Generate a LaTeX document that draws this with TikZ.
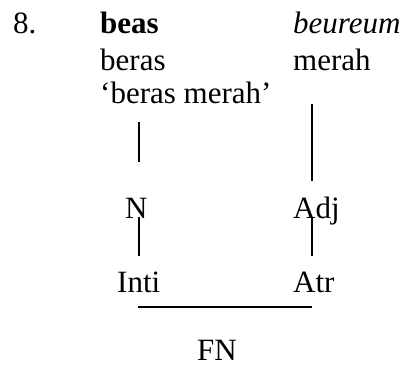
\documentclass[tikz,border=0pt]{standalone}
\usepackage{fontspec}
\setmainfont{Liberation Serif}
\begin{document}
\begin{tikzpicture}[x=1bp,y=-1bp,
  word/.style={anchor=base west,inner sep=0pt,font=\fontsize{31bp}{34bp}\selectfont},
  stem/.style={line width=1.6bp}]
\useasboundingbox (0,0) rectangle (406,367);

% example number and the glossed phrase
\node[word] (num)   at (13,33)  {8.};
\node[word] (src1)  at (100,33) {\textbf{beas}};
\node[word] (src2)  at (293,33) {\textit{beureum}};
\node[word] (gl1)   at (100,70) {beras};
\node[word] (gl2)   at (293,70) {merah};
\node[word] (trans) at (100,103) {`beras merah'};

% category and function labels
\node[word] (cat1)  at (125,218) {N};
\node[word] (cat2)  at (293,218) {Adj};
\node[word] (fun1)  at (117,292) {Inti};
\node[word] (fun2)  at (293,292) {Atr};
\node[word,anchor=base] (phrase) at (217,360) {FN};

% end points of the tree lines
\coordinate (l1top) at (139,122);
\coordinate (l1bot) at (139,162);
\coordinate (r1top) at (312,104);
\coordinate (r1bot) at (312,181);
\coordinate (l2top) at (139,217);
\coordinate (l2bot) at (139,256);
\coordinate (r2top) at (312,217);
\coordinate (r2bot) at (312,256);
\coordinate (barL)  at (138,307);
\coordinate (barR)  at (312,307);

\draw[stem] (l1top) -- (l1bot);
\draw[stem] (r1top) -- (r1bot);
\draw[stem] (l2top) -- (l2bot);
\draw[stem] (r2top) -- (r2bot);
\draw[stem] (barL) -- (barR);
\end{tikzpicture}
\end{document}
